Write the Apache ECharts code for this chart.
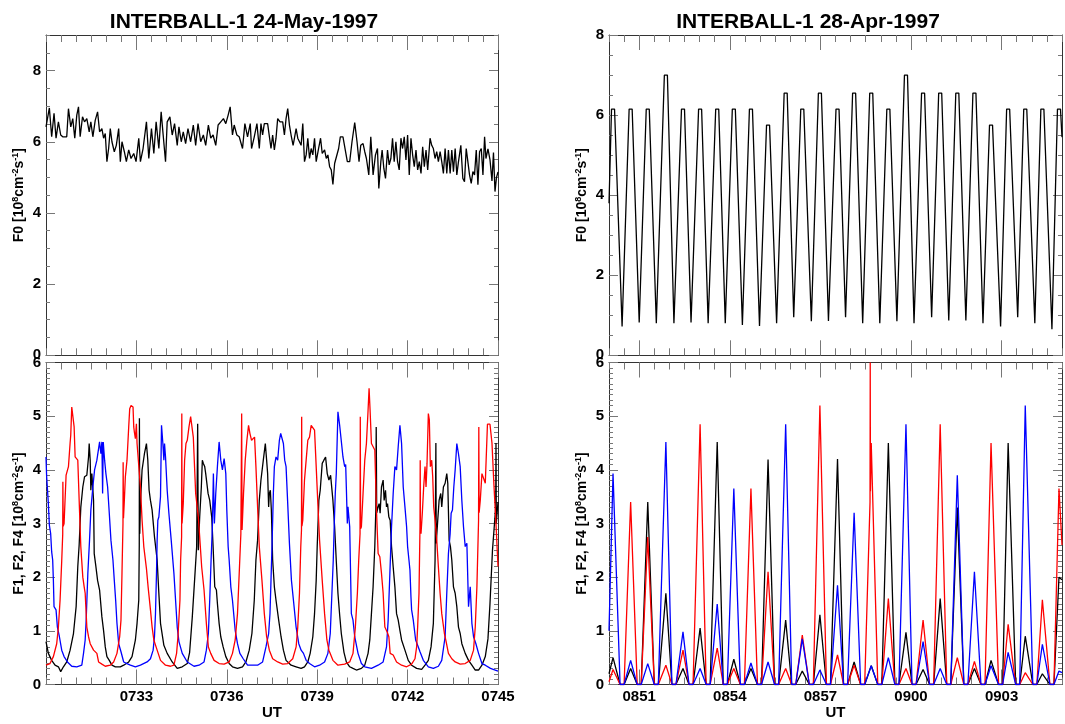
<!DOCTYPE html>
<html><head><meta charset="utf-8">
<script src="https://cdn.jsdelivr.net/npm/echarts@6/dist/echarts.min.js"></script>
<style>html,body{margin:0;padding:0;background:#fff}#c{width:1065px;height:724px}</style>
</head><body><div id="c"></div>
<script>
// ---------------- DATA ----------------
const leftTitle = 'INTERBALL-1 24-May-1997';
const rightTitle = 'INTERBALL-1 28-Apr-1997';
// x values are seconds after 07:30:00 (left) and 08:50:00 (right)
const leftTickSec = [180, 360, 540, 720, 900];
const leftTickLabels = ['0733', '0736', '0739', '0742', '0745'];
const rightTickSec = [60, 240, 420, 600, 780];
const rightTickLabels = ['0851', '0854', '0857', '0900', '0903'];
const topYTicks = [0, 2, 4, 6, 8];
const bottomYTicks = [0, 1, 2, 3, 4, 5, 6];

// Left top: F0, 24-May-1997 [seconds, value]
const leftF0 = [[0,6.42],[6.7,6.95],[11.3,6.14],[16,6.8],[20,6.1],[24.7,6.56],[29.3,6.19],[33.3,6.14],[41.3,6.14],[44.7,6.93],[49.3,6.42],[53.3,6.65],[57.3,6.1],[61.3,6.75],[64.7,6.98],[68,6.14],[72.7,6.7],[76.7,6.56],[81.3,6.65],[86,6.28],[89.3,6.56],[93.3,6.14],[98,6.6],[102.7,6.84],[106.7,6.28],[111.3,6.37],[114.7,6.1],[118,6.23],[121.3,5.44],[124.7,5.81],[128,6.37],[131.3,6.0],[136,5.72],[140,5.9],[144.7,6.37],[148,5.44],[151.3,6.0],[156,5.72],[160,5.44],[164.7,5.77],[169.3,5.53],[174.7,5.67],[179.3,5.44],[184.7,6.1],[188,5.44],[193.3,5.81],[200,6.56],[204.7,5.53],[210,6.37],[214.7,5.67],[219.3,6.56],[224.7,5.81],[229.3,6.84],[233.3,6.19],[238,5.44],[241.3,6.56],[246.7,6.7],[251.3,6.19],[256,6.51],[261.3,5.9],[264.7,6.42],[269.3,6.0],[273.3,6.28],[278,5.95],[282.7,6.37],[288,6.0],[293.3,6.47],[298,5.9],[302.7,6.51],[308,6.0],[313.3,6.19],[318,5.9],[323.3,6.47],[328,6.1],[332.7,6.19],[338,5.9],[342.7,6.47],[348,6.56],[353.3,6.65],[358,6.51],[362.7,6.75],[366.7,6.98],[371.3,6.19],[374.7,6.47],[380,6.19],[384.7,6.14],[388,6.14],[391.3,5.81],[396,6.51],[401.3,6.14],[406.7,6.51],[409.3,5.81],[414.7,6.14],[420,6.51],[424.7,5.81],[428,6.51],[431.3,6.19],[434.7,6.51],[438,6.47],[441.3,6.51],[444.7,6.47],[448,5.81],[451.3,6.19],[454.7,5.77],[458,6.1],[461.3,6.65],[466,6.56],[471.3,6.56],[474.7,6.19],[478,6.65],[481.3,6.93],[484.7,6.47],[488,6.19],[492,5.9],[494.7,6.1],[498,6.37],[501.3,6.1],[504.7,6.14],[508,5.9],[511.3,6.51],[514.7,5.44],[518,5.63],[521.3,6.1],[524.7,5.53],[528,5.81],[531.3,5.63],[534.7,6.1],[538,5.44],[542.7,5.81],[546.7,6.1],[550,5.67],[554.7,5.77],[558,5.53],[561.3,5.63],[564.7,5.3],[568,5.21],[571.3,4.8],[574.7,5.39],[578,5.44],[582.7,5.81],[586,6.14],[591.3,6.14],[594.7,6.1],[600,5.44],[604.7,5.44],[609.3,6.0],[614.7,6.54],[619.3,6.0],[623.3,5.44],[626.7,5.9],[631.3,5.95],[634.7,5.72],[638,5.53],[642.7,5.07],[646.7,6.14],[651.3,5.07],[656,5.63],[660,5.81],[662.7,4.69],[666.7,5.44],[669.3,5.77],[672.7,5.25],[676,4.97],[680,5.77],[683.3,5.35],[686.7,5.53],[690,6.1],[693.3,5.44],[696.7,6.0],[700,5.44],[703.3,5.21],[706.7,6.1],[710,5.81],[713.3,6.14],[716.7,5.49],[720,6.19],[723.3,5.07],[726.7,6.1],[730,5.63],[733.3,5.3],[736.7,5.77],[740,5.21],[743.3,5.44],[746.7,5.11],[750,5.86],[753.3,5.3],[756.7,5.77],[760,5.21],[764.7,6.1],[768,5.9],[771.3,5.81],[774.7,5.53],[778,5.72],[781.3,5.44],[784.7,5.72],[788,5.44],[791.3,5.11],[794.7,5.81],[798,5.11],[801.3,5.77],[804.7,5.11],[808,5.77],[811.3,5.16],[814.7,5.81],[818,5.07],[821.3,5.44],[826,5.9],[830,4.97],[833.3,4.88],[836.7,5.81],[840,5.44],[843.3,5.07],[846.7,4.83],[850,5.16],[853.3,5.07],[856.7,5.77],[860,4.79],[863.3,5.72],[866.7,5.81],[870,5.07],[873.3,6.14],[876,5.53],[880,5.8],[884,5.5],[888,4.9],[891,5.7],[894,4.6],[897,5.0],[900,5.15]];

// Left bottom: three channels [seconds, value]
const leftRed = [[0,0.36],[8,0.39],[14.7,0.52],[21.3,0.76],[24.7,1.07],[28,1.57],[31.3,2.3],[33.3,2.8],[33.6,3.78],[34.3,2.95],[36,3.0],[40,3.9],[44.7,4.06],[48,4.5],[49.3,4.65],[51.3,5.17],[54.7,5.2],[56,4.8],[58,4.24],[61.3,4.24],[63.3,4.18],[66.7,3.25],[69.3,2.57],[73.3,2.0],[76,1.82],[78,1.7],[81.3,1.07],[84.7,0.89],[88,0.76],[94.7,0.64],[101.3,0.58],[104.7,0.42],[111.3,0.38],[118,0.34],[128,0.36],[134.7,0.42],[141.3,0.58],[146.7,0.89],[149.3,1.2],[151.3,2.07],[153.3,3.0],[153.6,4.14],[154.3,3.1],[156,3.43],[158,3.87],[161.3,4.18],[164.7,4.8],[166.7,5.14],[169.3,5.2],[173.3,5.17],[174.7,4.8],[176,4.7],[178,4.58],[180,4.86],[181.3,4.49],[188,3.68],[191.3,3.06],[194.7,2.57],[200,2.16],[203.3,1.82],[208,1.39],[211.3,1.07],[214.7,0.83],[221.3,0.64],[228,0.45],[238,0.36],[248,0.34],[254.7,0.36],[260,0.58],[262.7,0.89],[266.7,1.57],[268,2.3],[270,2.75],[270.4,5.05],[270.9,3.0],[273.3,3.37],[276,4.18],[278.7,4.49],[281.3,4.55],[284.7,4.8],[288,4.99],[291.3,4.96],[293.3,4.61],[298,3.56],[303.3,3.12],[306,2.75],[310,2.19],[314.7,1.76],[319.3,1.14],[323.3,0.7],[328,0.58],[334.7,0.45],[344.7,0.39],[354.7,0.38],[364.7,0.42],[371.3,0.58],[376.7,0.83],[381.3,1.32],[384.7,2.07],[388,2.81],[389.6,5.05],[390.4,2.88],[393.3,3.56],[396.7,4.18],[400,4.55],[403.3,4.83],[406,4.68],[409.3,4.55],[412.7,4.58],[415.3,4.61],[418,4.06],[421.3,3.31],[424.7,2.57],[430,1.94],[434.7,1.32],[439.3,0.89],[444.7,0.64],[451.3,0.48],[461.3,0.42],[471.3,0.38],[481.3,0.39],[491.3,0.48],[498,0.7],[501.3,1.07],[504.7,1.7],[507.3,2.57],[508.7,2.88],[509.1,4.99],[509.6,2.95],[511.3,3.06],[514.7,3.81],[518,4.18],[521.3,4.55],[524.7,4.61],[528,4.83],[531.3,4.83],[534.7,4.74],[538,4.06],[541.3,3.37],[544.7,2.69],[550,1.94],[554.7,1.32],[559.3,0.83],[563.3,0.64],[571.3,0.45],[581.3,0.36],[594.7,0.38],[604.7,0.42],[611.3,0.58],[616,1.07],[620,1.7],[622.7,2.32],[625.3,2.81],[625.8,4.99],[626.4,2.9],[628,2.94],[631.3,3.56],[634.7,4.18],[638,4.49],[641.3,5.11],[643.3,5.52],[645.3,5.11],[648,4.49],[651.3,4.49],[654.7,4.37],[658,3.25],[661.3,2.44],[664.7,2.38],[668,2.07],[671.3,1.7],[674.7,1.07],[679.3,0.98],[682.7,0.89],[685.3,0.58],[691.3,0.55],[698,0.42],[708,0.36],[718,0.33],[728,0.38],[734.7,0.48],[738,0.7],[740,1.07],[742.7,1.7],[744.7,2.94],[745.1,4.18],[745.6,2.9],[746.7,2.81],[749.3,3.19],[752,3.68],[754.7,4.06],[756.7,3.68],[758.7,4.12],[761.3,5.05],[763.3,4.93],[765.3,4.06],[768,4.18],[770,3.87],[772,3.31],[774.7,3.06],[778,2.69],[781.3,2.19],[784.7,1.7],[788,1.32],[793.3,0.95],[796.7,0.8],[801.3,0.58],[808,0.48],[814.7,0.42],[824.7,0.38],[834.7,0.39],[844.7,0.45],[851.3,0.64],[854.7,1.07],[858,1.82],[861.3,3.06],[861.8,4.8],[862.4,3.2],[864.7,3.43],[868,3.93],[871.3,3.93],[874.7,3.75],[879,4.85],[884,4.85],[888,4.5],[892,3.7],[896,3.0],[900,2.2]];

const leftBlack = [[0,0.8],[4.7,0.58],[11.3,0.45],[18,0.36],[24.7,0.33],[29.3,0.24],[34.7,0.33],[41.3,0.42],[48,0.64],[54.7,0.95],[60,1.45],[63.3,2.2],[66,2.6],[69.3,3.3],[73.3,3.68],[76.7,3.87],[81.3,3.9],[84.7,4.24],[86,4.49],[88,4.18],[89.3,3.62],[91.3,3.93],[94.7,3.43],[96,2.44],[99.3,2.2],[102.7,1.94],[106.7,1.76],[111.3,1.26],[114.7,1.0],[118,0.7],[121.3,0.52],[126,0.45],[131.3,0.36],[138,0.33],[148,0.33],[154.7,0.36],[164.7,0.42],[171.3,0.52],[178,0.83],[181.3,1.14],[184.7,1.57],[185.7,2.6],[186,4.96],[186.7,2.81],[188,3.37],[191.3,4.0],[196,4.3],[200,4.49],[202.7,4.18],[205.3,3.62],[208,3.43],[211.3,3.25],[216,2.75],[221.3,2.32],[224.7,1.7],[228,1.14],[234.7,0.73],[241.3,0.58],[251.3,0.42],[261.3,0.3],[271.3,0.33],[281.3,0.39],[286,0.6],[291.3,1.26],[296.7,2.07],[300,2.57],[302,4.86],[303.3,2.5],[306,3.12],[309.3,3.68],[311.3,4.18],[313.3,4.12],[316,4.06],[318,3.93],[320,3.93],[322.7,3.56],[326,3.43],[330,3.12],[332.7,2.57],[336,1.82],[339.3,1.76],[341.3,1.51],[344.7,1.14],[348,0.89],[352.7,0.7],[358,0.52],[364.7,0.39],[371.3,0.33],[381.3,0.3],[391.3,0.33],[398,0.42],[404.7,0.64],[410,0.95],[414.7,1.57],[418,2.32],[421.3,2.69],[424.7,3.43],[428,3.81],[432.7,4.18],[436.7,4.49],[439.3,4.18],[441.3,3.93],[443.3,3.31],[444.7,3.56],[446.7,3.62],[448.7,3.25],[451.3,2.32],[454.7,1.82],[458,1.57],[463.3,1.2],[468,0.89],[472.7,0.64],[478,0.45],[488,0.36],[498,0.33],[508,0.3],[514.7,0.33],[521.3,0.42],[526,0.58],[531.3,0.89],[534.7,1.32],[538,1.94],[540,2.57],[543.3,3.43],[546,3.62],[550,4.12],[553.3,4.18],[556.7,4.24],[560,3.93],[563.3,3.81],[566.7,3.9],[571.3,3.43],[574.7,2.94],[578,2.3],[581.3,1.7],[584.7,1.3],[588,0.95],[593.3,0.6],[598,0.42],[604.7,0.33],[611.3,0.3],[618,0.27],[628,0.3],[634.7,0.36],[641.3,0.58],[644.7,0.83],[648,1.32],[651.3,1.82],[654.7,2.57],[656.7,3.25],[657.5,4.8],[658.5,3.2],[661.3,3.31],[663.3,3.37],[665.3,3.19],[668,3.68],[671.3,3.81],[673.3,3.43],[676,3.62],[678,3.31],[680,3.37],[682.7,3.12],[685.3,3.06],[688,2.57],[691.3,2.19],[694.7,1.82],[698,1.32],[701.3,1.2],[704.7,1.01],[708,0.83],[714.7,0.64],[721.3,0.45],[728,0.36],[738,0.3],[748,0.28],[754.7,0.36],[761.3,0.45],[766.7,0.7],[771.3,1.14],[774.7,2.32],[776.3,4.5],[777,2.63],[780,3.06],[782.7,3.43],[786,3.56],[788,3.31],[791.3,3.68],[794.7,3.75],[798,3.93],[800,3.75],[802.7,2.69],[805.3,2.57],[808,2.32],[811.3,1.82],[814.7,1.7],[818,1.45],[821.3,1.07],[824.7,0.95],[828,0.76],[834.7,0.58],[841.3,0.45],[848,0.36],[854.7,0.27],[861.3,0.27],[868,0.36],[874.7,0.52],[880,0.85],[884,1.5],[889,2.5],[893,3.0],[895.5,3.3],[896,4.5],[896.6,3.0],[900,3.4]];

const leftBlue = [[0,4.24],[1.3,3.87],[4.7,3.37],[6.7,2.97],[9.3,2.81],[11.3,2.47],[13.3,2.32],[14.7,1.94],[16,1.45],[20,1.39],[22.7,1.07],[26.7,0.89],[31.3,0.64],[36,0.52],[42.7,0.42],[51.3,0.34],[61.3,0.33],[71.3,0.36],[74.7,0.58],[78,0.83],[80,1.2],[83.3,2.07],[86.7,2.69],[89.3,3.25],[93.3,3.68],[96.7,4.0],[101.3,4.18],[106.7,4.52],[109.3,4.3],[111.3,4.52],[112.7,3.56],[114,4.52],[116.7,4.18],[119.3,3.93],[122.7,3.68],[126,3.19],[129.3,2.69],[133.3,2.32],[136,1.94],[138.7,1.57],[141.3,1.14],[144.7,0.76],[149.3,0.61],[154.7,0.42],[161.3,0.39],[168,0.36],[178,0.33],[188,0.36],[201.3,0.42],[208,0.48],[213.3,0.64],[216,0.89],[218,1.32],[220,2.07],[221.3,2.69],[222.7,3.06],[224.7,3.12],[228,3.5],[230,4.83],[232.7,4.49],[234.7,4.18],[236,4.49],[238,4.24],[241.3,3.62],[244.7,3.19],[249.3,2.69],[254.7,2.07],[258,1.57],[261.3,1.07],[264.7,0.8],[271.3,0.58],[281.3,0.42],[294.7,0.34],[304.7,0.36],[314.7,0.42],[319.3,0.64],[323.3,0.95],[326,1.57],[328.7,2.32],[331.3,2.94],[333.3,3.93],[335.3,3.0],[338,3.56],[341.3,4.06],[344.7,4.52],[348,4.18],[351.3,4.0],[354.7,4.21],[358,3.93],[360,3.25],[362.7,2.57],[364.7,2.32],[368,1.82],[371.3,1.57],[376.7,1.01],[381.3,0.76],[386,0.58],[392.7,0.48],[401.3,0.36],[411.3,0.36],[421.3,0.36],[431.3,0.42],[438,0.7],[443.3,0.95],[446,1.32],[448,1.94],[450,2.57],[452.7,3.56],[454.7,4.06],[458,4.24],[461.3,4.18],[464.7,4.55],[467.3,4.68],[470,4.71],[472.7,4.49],[475.3,4.18],[478,4.06],[481.3,3.37],[484.7,2.63],[488.7,1.94],[492.7,1.57],[498,1.07],[503.3,0.76],[508,0.64],[512.7,0.58],[518,0.45],[524.7,0.39],[534.7,0.33],[544.7,0.36],[554.7,0.42],[561.3,0.58],[566,0.95],[569.3,1.7],[572,2.32],[574,3.0],[576,3.56],[578,3.93],[581.3,5.08],[584.7,4.83],[588,4.8],[591.3,4.24],[594.7,4.06],[596.7,4.1],[598,3.68],[600,3.0],[601.3,3.31],[604.7,2.94],[608,1.32],[611.3,1.2],[614.7,0.89],[621.3,0.58],[628,0.39],[634.7,0.33],[648,0.3],[661.3,0.36],[671.3,0.42],[678,0.7],[681.3,1.2],[684.7,2.07],[688,2.94],[691.3,3.56],[694.7,4.06],[698,4.0],[701.3,4.43],[704.7,4.83],[708,4.49],[711.3,3.68],[714.7,3.31],[718,2.94],[720,2.57],[722.7,2.32],[724.7,2.13],[726.7,1.63],[728,1.39],[731.3,1.2],[736,0.83],[741.3,0.7],[744.7,0.61],[751.3,0.45],[761.3,0.33],[771.3,0.3],[781.3,0.34],[788,0.45],[794.7,0.89],[798,1.7],[801.3,2.44],[804.7,2.81],[806.7,3.19],[809.3,3.25],[812,3.68],[814.7,4.0],[818,4.49],[821.3,4.3],[824.7,4.06],[828,3.43],[831.3,2.94],[834.7,2.57],[838,2.63],[841.3,1.45],[844.7,1.82],[848,1.14],[851.3,0.89],[856,0.76],[861.3,0.58],[868,0.39],[874.7,0.36],[885,0.3],[900,0.25]];

// Right column, 28-Apr-1997: spin-cycle peak and trough times (s after 08:50:00)
const rightPeakT = [8,43,77,113,147,181,215,248,282,316,351,384,419,454,487,521,555,590,624,658,692,726,759,793,827,861,894];
const rightTroughT = [26,60,94,129,163,197,231,265,299,333,367,402,436,470,504,538,572,606,641,675,709,743,778,812,846,880];
// Right top F0
const rightF0Peak = [6.15,6.15,6.15,7.0,6.15,6.15,6.15,6.15,6.15,5.75,6.55,6.15,6.55,6.15,6.55,6.55,6.15,7.0,6.55,6.55,6.55,6.55,5.75,6.15,6.15,6.15,6.15];
const rightF0Trough = [0.72,0.82,0.8,0.8,0.82,0.8,0.8,0.76,0.73,0.8,0.95,0.85,0.86,0.95,0.8,0.8,0.85,0.8,0.95,0.87,0.87,0.8,0.72,0.95,0.8,0.65];
const rightF0Ends = [3.8, 5.45];
// Right bottom peak heights
const rightBlackPeak = [0.5,0.3,3.4,1.7,0.3,1.05,4.52,0.47,0.3,4.19,1.2,0.25,1.3,4.2,0.42,0.35,4.5,0.97,0.28,1.6,3.3,0.3,0.45,4.5,0.9,0.2,2.0];
const rightBluePeak = [3.93,0.45,0.39,4.52,0.98,0.3,1.5,3.65,0.4,0.42,4.85,0.85,0.27,1.85,3.2,0.35,0.5,4.85,0.8,0.3,3.9,2.1,0.35,0.6,5.2,0.75,0.25];
const rightRedPeak = [0.28,3.4,2.75,0.36,0.64,4.85,0.68,0.3,3.65,2.1,0.3,0.92,5.2,0.55,0.36,4.5,1.6,0.3,1.2,4.85,0.5,0.43,4.5,1.12,0.22,1.58,3.65];
const rightBlackEnds = [0.2, 1.95];
const rightBlueEnds = [1.0, 0.22];
const rightRedEnds = [0.05, 2.6];
const rightRedSpike = [[518.6,3.4],[519,6.0],[519.4,3.6]];

// ---------------- BUILD ----------------
const FONT = '"Liberation Sans", Arial, Helvetica, sans-serif';
const AX = '#333', TK = '#777';
const PEAK_HALF = 3, TROUGH_HALF = 4;

function f0Right() {
  const pts = [[0, rightF0Ends[0]]];
  rightPeakT.forEach((t, i) => {
    pts.push([t - PEAK_HALF, rightF0Peak[i]], [t + PEAK_HALF, rightF0Peak[i]]);
    if (i < rightTroughT.length) pts.push([rightTroughT[i], rightF0Trough[i]]);
  });
  pts.push([900, rightF0Ends[1]]);
  return pts.filter(p => p[0] >= 0 && p[0] <= 900);
}
function peaksRight(peaks, ends, extra) {
  let pts = [[0, ends[0]]];
  rightPeakT.forEach((t, i) => {
    pts.push([t, peaks[i]]);
    if (i < rightTroughT.length) pts.push([rightTroughT[i] - TROUGH_HALF, 0], [rightTroughT[i] + TROUGH_HALF, 0]);
  });
  pts.push([900, ends[1]]);
  if (extra) pts = pts.concat(extra);
  pts.sort((a, b) => a[0] - b[0]);
  return pts;
}

const supName = (pre) => `{n|${pre} [10}{s|8}{n|cm}{s|-2}{n|s}{s|-1}{n|]}`;
const nameRich = {
  n: { fontSize: 14, fontWeight: 'bold', fontFamily: FONT, color: '#000', lineHeight: 16 },
  s: { fontSize: 9, fontWeight: 'bold', fontFamily: FONT, color: '#000', lineHeight: 9, verticalAlign: 'top' }
};
const labelStyle = { fontSize: 15, fontWeight: 'bold', fontFamily: FONT, color: '#000' };

const panels = [
  { box: { left: 46, top: 35, width: 452, height: 320.3 }, showX: false, tickSec: leftTickSec, tickLab: leftTickLabels, ymax: 9, yTicks: topYTicks, yMinor: 0.5, yName: supName('F0') },
  { box: { left: 609, top: 35, width: 453, height: 320.3 }, showX: false, tickSec: rightTickSec, tickLab: rightTickLabels, ymax: 8, yTicks: topYTicks, yMinor: 0.5, yName: supName('F0') },
  { box: { left: 46, top: 362.5, width: 452, height: 322 }, showX: true, tickSec: leftTickSec, tickLab: leftTickLabels, ymax: 6, yTicks: bottomYTicks, yMinor: 0.1, yName: supName('F1, F2, F4') },
  { box: { left: 609, top: 362.5, width: 453, height: 322 }, showX: true, tickSec: rightTickSec, tickLab: rightTickLabels, ymax: 6, yTicks: bottomYTicks, yMinor: 0.1, yName: supName('F1, F2, F4') }
];

const option = { animation: false, backgroundColor: '#fff', grid: [], xAxis: [], yAxis: [], series: [], graphic: [] };

panels.forEach((p, k) => {
  option.grid.push(Object.assign({ containLabel: false, outerBoundsMode: 'none', show: false }, p.box));
  p.xi = option.xAxis.length; p.yi = option.yAxis.length;
  ['bottom', 'top'].forEach(pos => {
    const main = pos === 'bottom';
    option.xAxis.push({
      type: 'value', gridIndex: k, position: pos, min: 0, max: 900,
      axisLine: { show: true, onZero: false, lineStyle: { color: AX, width: 1 } },
      axisTick: { show: true, inside: true, length: 15, customValues: p.tickSec, lineStyle: { color: TK, width: 1 } },
      axisLabel: Object.assign({ show: main && p.showX, customValues: p.tickSec, margin: 5, showMaxLabel: true, showMinLabel: true,
        formatter: v => { const i = p.tickSec.indexOf(v); return i >= 0 ? p.tickLab[i] : ''; } }, labelStyle),
      splitLine: { show: false },
      name: main && p.showX ? 'UT' : '', nameLocation: 'middle', nameGap: 21,
      nameTextStyle: { fontSize: 15, fontWeight: 'bold', fontFamily: FONT, color: '#000' }
    });
    option.xAxis.push({
      type: 'value', gridIndex: k, position: pos, min: 0, max: 900, interval: 30,
      axisLine: { show: false, onZero: false },
      axisTick: { show: true, inside: true, length: 7, lineStyle: { color: TK, width: 1 } },
      axisLabel: { show: false }, splitLine: { show: false }
    });
  });
  ['left', 'right'].forEach(pos => {
    const main = pos === 'left';
    option.yAxis.push({
      type: 'value', gridIndex: k, position: pos, min: 0, max: p.ymax,
      axisLine: { show: true, onZero: false, lineStyle: { color: AX, width: 1 } },
      axisTick: { show: true, inside: true, length: 9, customValues: p.yTicks, lineStyle: { color: TK, width: 1 } },
      axisLabel: Object.assign({ show: main, customValues: p.yTicks, margin: 5, showMaxLabel: true, showMinLabel: true }, labelStyle),
      splitLine: { show: false },
      name: main ? p.yName : '', nameLocation: 'middle', nameRotate: 90, nameGap: 19,
      nameTextStyle: { rich: nameRich }
    });
    option.yAxis.push({
      type: 'value', gridIndex: k, position: pos, min: 0, max: p.ymax, interval: p.yMinor,
      axisLine: { show: false, onZero: false },
      axisTick: { show: true, inside: true, length: 4, lineStyle: { color: TK, width: 1 } },
      axisLabel: { show: false }, splitLine: { show: false }
    });
  });
});

function line(p, data, color) {
  return { type: 'line', xAxisIndex: p.xi, yAxisIndex: p.yi, data, showSymbol: false, symbol: 'none',
    lineStyle: { color, width: 1.3 }, itemStyle: { color }, silent: true, clip: true };
}
option.series.push(line(panels[0], leftF0, '#000'));
option.series.push(line(panels[1], f0Right(), '#000'));
option.series.push(line(panels[2], leftBlack, '#000'));
option.series.push(line(panels[2], leftBlue, '#0000ff'));
option.series.push(line(panels[2], leftRed, '#ff0000'));
option.series.push(line(panels[3], peaksRight(rightBlackPeak, rightBlackEnds), '#000'));
option.series.push(line(panels[3], peaksRight(rightRedPeak, rightRedEnds, rightRedSpike), '#ff0000'));
option.series.push(line(panels[3], peaksRight(rightBluePeak, rightBlueEnds), '#0000ff'));

[[leftTitle, 244], [rightTitle, 808]].forEach(([t, x]) => {
  option.graphic.push({ type: 'text', x: x, y: 22.5, silent: true,
    style: { text: t, fontSize: 21, fontWeight: 'bold', fontFamily: FONT, fill: '#000', align: 'center', verticalAlign: 'middle' } });
});

const chart = echarts.init(document.getElementById('c'), null, { renderer: 'canvas', width: 1065, height: 724 });
chart.setOption(option);
</script>
</body></html>
